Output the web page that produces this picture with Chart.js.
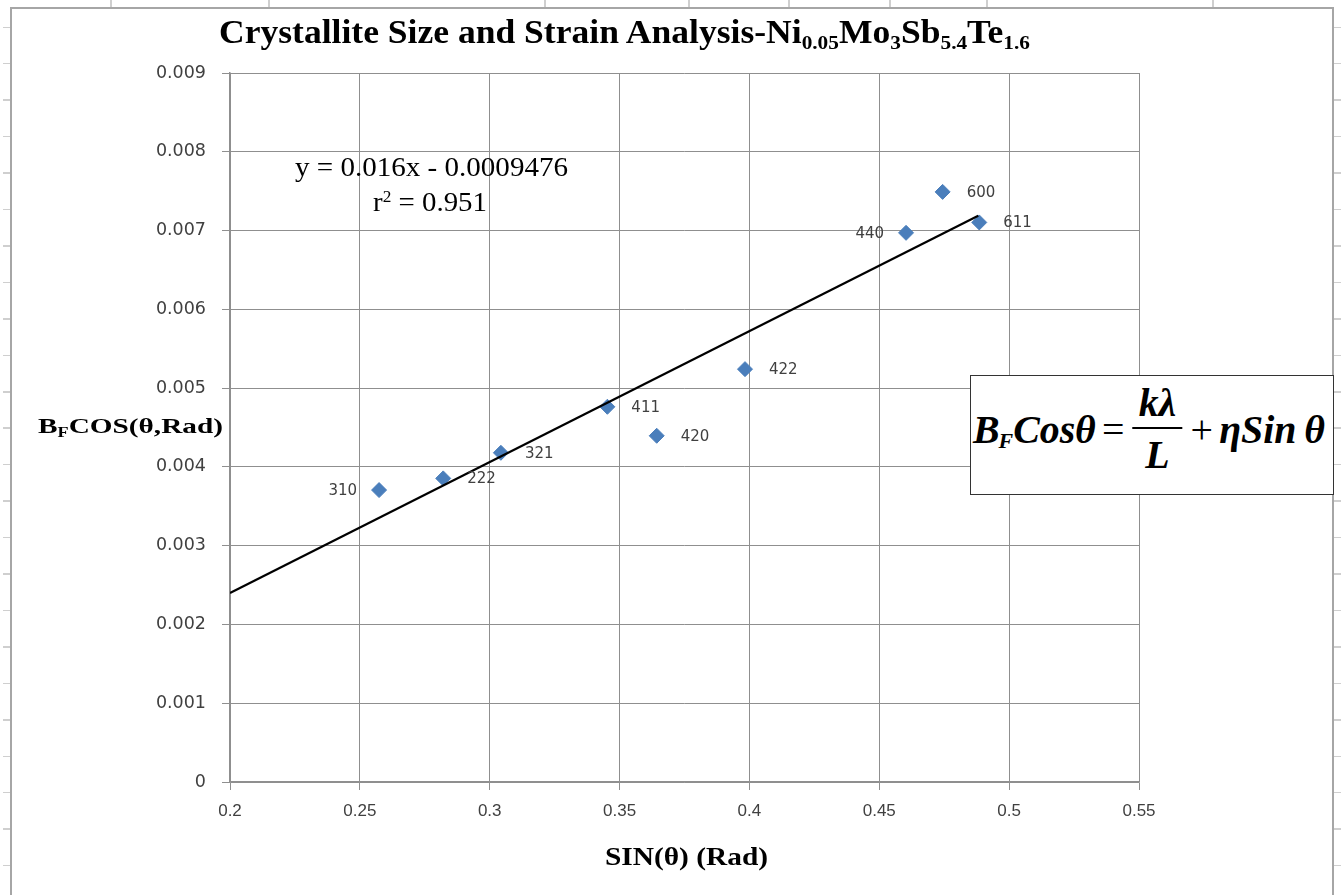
<!DOCTYPE html>
<html>
<head>
<meta charset="utf-8">
<title>Crystallite Size and Strain Analysis</title>
<script src="https://cdn.jsdelivr.net/npm/chart.js@4.4.0/dist/chart.umd.min.js"></script>
<style>
    html, body { margin: 0; padding: 0; background: #fff; }
    #page { position: relative; width: 1341px; height: 895px; overflow: hidden; }
    #frame { position: absolute; left: 10px; top: 7px; width: 1324px; height: 900px; border: 2px solid #a6a6a6; box-sizing: border-box; }
    .rowticks { position: absolute; top: 0; width: 7px; height: 895px;
        background: repeating-linear-gradient(to bottom, transparent 0, transparent 26.5px, #cfcfcf 26.5px, #cfcfcf 28px, transparent 28px, transparent 36.45px); }
    .colTick { position: absolute; top: 0; width: 1.5px; height: 7px; background: #cfcfcf; }
    canvas { position: absolute; left: 0; top: 0; }
    .txt { position: absolute; white-space: nowrap; transform-origin: left top; color: #000; }
    .serif { font-family: "Liberation Serif", "Tinos", "Times New Roman", serif; }
    #title { left: 219px; top: 14px; font-size: 33px; font-weight: bold; }
    #title sub { font-size: 0.6em; vertical-align: -0.28em; }
    #ytitle { left: 38px; top: 413px; font-size: 22px; font-weight: bold; }
    #ytitle sub { font-size: 0.62em; vertical-align: -0.3em; }
    #xtitle { left: 605px; top: 842px; font-size: 26px; font-weight: bold; }
    #eq1 { left: 295px; top: 152px; font-size: 27px; }
    #eq2 { left: 373px; top: 187px; font-size: 27px; }
    #eq2 sup { font-size: 0.6em; vertical-align: 0.55em; }
    #box { position: absolute; left: 970px; top: 375px; width: 364px; height: 120px; border: 1.5px solid #333; background: #fff; box-sizing: border-box; }
    #formula { left: 2px; top: 6px; font-size: 39px; font-style: italic; font-weight: bold; display: flex; align-items: center; }
    #formula .up { font-style: normal; font-weight: normal; padding: 0 6px; }
    #formula .sub { font-size: 0.55em; position: relative; top: 0.55em; margin-left: -1px; }
    .frac { display: inline-flex; flex-direction: column; align-items: center; margin: 0 2px; }
    .frac .num { border-bottom: 2px solid #000; padding: 0 6px 2px; line-height: 1.1; }
    .frac .den { line-height: 1.1; padding-top: 5px; }
</style>
</head>
<body>
<div id="page">
    <div class="rowticks" style="left:3px"></div>
    <div class="rowticks" style="left:1334px"></div>
    <div class="colTick" style="left:110px"></div>
    <div class="colTick" style="left:268px"></div>
    <div class="colTick" style="left:544px"></div>
    <div class="colTick" style="left:688px"></div>
    <div class="colTick" style="left:788px"></div>
    <div class="colTick" style="left:889px"></div>
    <div class="colTick" style="left:986px"></div>
    <div class="colTick" style="left:1212px"></div>
    <div id="frame"></div>
    <canvas id="chart" width="1341" height="895"></canvas>

    <div id="title" class="txt serif">Crystallite Size and Strain Analysis-Ni<sub>0.05</sub>Mo<sub>3</sub>Sb<sub>5.4</sub>Te<sub>1.6</sub></div>
    <div id="ytitle" class="txt serif">B<sub>F</sub>COS(θ,Rad)</div>
    <div id="xtitle" class="txt serif">SIN(θ) (Rad)</div>
    <div id="eq1" class="txt serif">y = 0.016x - 0.0009476</div>
    <div id="eq2" class="txt serif">r<sup>2</sup> = 0.951</div>
    <div id="box">
        <div id="formula" class="txt serif"><span>B</span><span class="sub">F</span><span>Cos&theta;</span><span class="up">=</span><span class="frac"><span class="num">k&lambda;</span><span class="den">L</span></span><span class="up">+</span><span>&eta;Sin&thinsp;&theta;</span></div>
    </div>
</div>

<script>
    // hkl reflections and their Williamson-Hall coordinates
    const reflections = ['310', '222', '321', '411', '420', '422', '440', '600', '611'];
    const sinTheta    = [0.2574, 0.2821, 0.3043, 0.3453, 0.3643, 0.3983, 0.4603, 0.4744, 0.4885];
    const bCosTheta   = [0.003706, 0.003854, 0.004179, 0.004763, 0.004395, 0.005241, 0.006971, 0.007491, 0.007103];

    // linear trendline end points as drawn
    const trendX = [0.2, 0.4881];
    const trendY = [0.002398, 0.007187];

    const xTickValues = [0.2, 0.25, 0.3, 0.35, 0.4, 0.45, 0.5, 0.55];
    const xTickLabels = ['0.2', '0.25', '0.3', '0.35', '0.4', '0.45', '0.5', '0.55'];
    const yTickValues = [0, 0.001, 0.002, 0.003, 0.004, 0.005, 0.006, 0.007, 0.008, 0.009];
    const yTickLabels = ['0', '0.001', '0.002', '0.003', '0.004', '0.005', '0.006', '0.007', '0.008', '0.009'];

    const gridGray = '#8f8f8f';
    const labelGray = '#404040';
    const leftLabels = ['310', '440']; // these sit left of their marker

    // hkl labels next to each marker
    const hklLabels = {
        id: 'hklLabels',
        afterDatasetsDraw(chart) {
            const meta = chart.getDatasetMeta(0);
            const ctx = chart.ctx;
            ctx.save();
            ctx.font = '15px "DejaVu Sans", sans-serif';
            ctx.fillStyle = labelGray;
            ctx.textBaseline = 'middle';
            meta.data.forEach(function (pt, i) {
                const name = reflections[i];
                if (leftLabels.includes(name)) {
                    ctx.textAlign = 'right';
                    ctx.fillText(name, pt.x - 22, pt.y + 1);
                } else {
                    ctx.textAlign = 'left';
                    ctx.fillText(name, pt.x + 24, pt.y + 1);
                }
            });
            ctx.restore();
        }
    };

    new Chart(document.getElementById('chart'), {
        type: 'scatter',
        data: {
            datasets: [{
                label: 'data',
                data: sinTheta.map((x, i) => ({ x: x, y: bCosTheta[i] })),
                pointStyle: 'rectRot',
                pointRadius: 7.5,
                backgroundColor: '#4a7ebb',
                borderColor: '#4a7ebb',
                borderWidth: 1,
                order: 2
            }, {
                label: 'trend',
                type: 'line',
                data: trendX.map((x, i) => ({ x: x, y: trendY[i] })),
                borderColor: '#000',
                borderWidth: 2.2,
                pointRadius: 0,
                fill: false,
                order: 1
            }]
        },
        options: {
            responsive: false,
            animation: false,
            layout: { padding: { top: 73, right: 202, left: 0, bottom: 0 } },
            plugins: { legend: { display: false }, title: { display: false }, tooltip: { enabled: false } },
            scales: {
                x: {
                    type: 'linear',
                    min: 0.2,
                    max: 0.55,
                    afterFit: s => { s.height = 113; },
                    afterBuildTicks: s => { s.ticks = xTickValues.map(v => ({ value: v })); },
                    grid: { color: gridGray, lineWidth: 1, tickLength: 8, tickColor: gridGray },
                    border: { color: gridGray, width: 1.5 },
                    ticks: {
                        padding: 11,
                        color: labelGray,
                        font: { family: '"Liberation Sans Narrow", "Liberation Sans", sans-serif', size: 17 },
                        callback: (v, i) => xTickLabels[i]
                    }
                },
                y: {
                    type: 'linear',
                    min: 0,
                    max: 0.009,
                    afterFit: s => { s.width = 230; },
                    afterBuildTicks: s => { s.ticks = yTickValues.map(v => ({ value: v })); },
                    grid: { color: gridGray, lineWidth: 1, tickLength: 8, tickColor: gridGray },
                    border: { color: gridGray, width: 1.5 },
                    ticks: {
                        padding: 16,
                        color: labelGray,
                        font: { family: '"DejaVu Sans", sans-serif', size: 17.5 },
                        callback: (v, i) => yTickLabels[i]
                    }
                }
            }
        },
        plugins: [hklLabels]
    });

    // stretch overlay texts to the widths they occupy in the original
    function fitWidth(id, w) {
        const el = document.getElementById(id);
        const cur = el.getBoundingClientRect().width;
        if (cur > 0) el.style.transform = 'scaleX(' + (w / cur) + ')';
    }
    fitWidth('title', 811);
    fitWidth('ytitle', 185);
    fitWidth('xtitle', 163);
    fitWidth('eq1', 273);
    fitWidth('eq2', 114);
    fitWidth('formula', 352);
</script>
</body>
</html>
